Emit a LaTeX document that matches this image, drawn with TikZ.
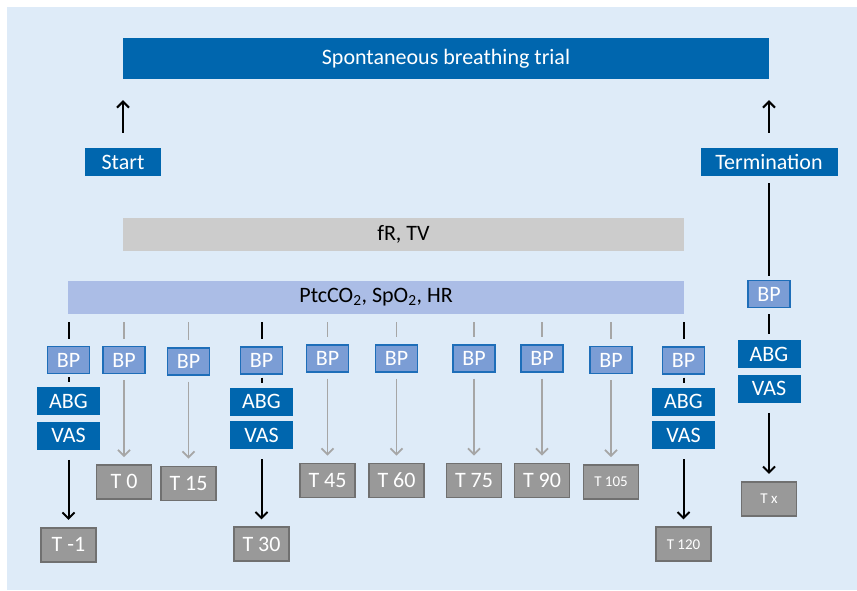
\documentclass[tikz,border=0pt]{standalone}
\usepackage{fontspec}
\setmainfont{Carlito}
\usetikzlibrary{arrows.meta}
\usetikzlibrary{positioning}
\definecolor{sbtblue}{RGB}{0,102,174}
\definecolor{bgblue}{RGB}{222,235,248}
\definecolor{bpblue}{RGB}{123,157,213}
\definecolor{bpline}{RGB}{30,110,185}
\definecolor{barblue}{RGB}{171,189,230}
\definecolor{bargray}{RGB}{204,204,204}
\definecolor{tgray}{RGB}{153,153,153}
\definecolor{tline}{RGB}{112,112,112}
\definecolor{linegray}{RGB}{166,166,166}
\tikzset{
  >={Straight Barb[length=6pt,width=12pt]},
  box/.style = {rectangle, inner sep=0pt, text=white},
  bar/.style = {box, fill=sbtblue, minimum height=41pt},
  tag/.style = {box, fill=sbtblue, minimum height=28pt},
  measure/.style = {box, fill=sbtblue, minimum width=63pt, minimum height=28pt},
  bp/.style = {box, fill=bpblue, draw=bpline, line width=1.2pt,
    minimum width=42pt, minimum height=27pt},
  timept/.style = {box, fill=tgray, draw=tline, line width=1.6pt,
    minimum width=55pt, minimum height=34pt},
  smalltext/.style = {font=\fontsize{15}{17}\selectfont},
  band/.style = {rectangle, inner sep=0pt, text=black, minimum height=33pt},
  blk/.style = {line width=2pt, black},
  gry/.style = {line width=1.8pt, linegray},
  intick/.style = {shorten <=8pt, shorten >=7pt},
  shorttick/.style = {shorten <=3pt, shorten >=5pt},
  toT/.style = {->, shorten <=6pt, shorten >=7pt},
  vasT/.style = {->, shorten <=10pt, shorten >=7pt},
}

\begin{document}
\begin{tikzpicture}[x=1pt, y=-1pt, font=\fontsize{22}{25}\selectfont]
    \useasboundingbox (0,0) rectangle (857,590);
    \fill[bgblue] (7,7) rectangle (857,590);

    % bars
    \node [bar, minimum width=646pt] (sbt) at (446,58.5) {Spontaneous breathing trial};
    \node [tag, minimum width=76pt] (start) at (123,162) {Start};
    \node [tag, minimum width=137pt] (term) at (769,162) {Termination};
    \node [band, fill=bargray, minimum width=561pt] (frtv) at (403.5,234.5) {fR, TV};
    \node [band, fill=barblue, minimum width=616pt] (ptc) at (376,297.5)
      {PtcCO\textsubscript{2}, SpO\textsubscript{2}, HR};

    % blood pressure
    \node [bp] (bp1) at (68.5,360) {BP};
    \node [bp] (bp2) at (124,360) {BP};
    \node [bp] (bp3) at (188.5,361.5) {BP};
    \node [bp] (bp4) at (261.5,360.5) {BP};
    \node [bp] (bp5) at (327.5,358.5) {BP};
    \node [bp] (bp6) at (396.5,358.5) {BP};
    \node [bp] (bp7) at (474,358.5) {BP};
    \node [bp] (bp8) at (542,358.5) {BP};
    \node [bp] (bp9) at (611,360) {BP};
    \node [bp] (bp10) at (683.5,360.5) {BP};
    \node [bp] (bpr) at (769,294) {BP};

    % blood gas and pain score
    \node [measure, below=13pt of bp1] (abg1) {ABG};
    \node [measure, below=6pt of abg1] (vas1) {VAS};
    \node [measure, below=13pt of bp4] (abg4) {ABG};
    \node [measure, below=5pt of abg4] (vas4) {VAS};
    \node [measure, below=13pt of bp10] (abg10) {ABG};
    \node [measure, below=5pt of abg10] (vas10) {VAS};
    \node [measure, below=32pt of bpr] (abgr) {ABG};
    \node [measure, below=6pt of abgr] (vasr) {VAS};

    % time points
    \node [timept, below=77pt of vas1] (tm1) {T -1};
    \node [timept, below=90pt of bp2] (t0) {T 0};
    \node [timept, below=90pt of bp3] (t15) {T 15};
    \node [timept, below=77pt of vas4] (t30) {T 30};
    \node [timept, below=90pt of bp5] (t45) {T 45};
    \node [timept, below=90pt of bp6] (t60) {T 60};
    \node [timept, below=90pt of bp7] (t75) {T 75};
    \node [timept, below=90pt of bp8] (t90) {T 90};
    \node [timept, smalltext, below=90pt of bp9] (t105) {T 105};
    \node [timept, smalltext, below=77pt of vas10] (t120) {T 120};
    \node [timept, smalltext, below=78pt of vasr] (tx) {T x};

    \draw [blk, ->, shorten <=15pt, shorten >=21pt] (start) -- (start |- sbt.south);
    \draw [blk, ->, shorten <=15pt, shorten >=21pt] (term) -- (term |- sbt.south);
    \draw [blk, shorten <=7pt, shorten >=4pt] (term) -- (bpr);

    \draw [blk, intick] (ptc.south -| bp1) -- (bp1);
    \draw [gry, intick] (ptc.south -| bp2) -- (bp2);
    \draw [gry, intick] (ptc.south -| bp3) -- (bp3);
    \draw [blk, intick] (ptc.south -| bp4) -- (bp4);
    \draw [gry, intick] (ptc.south -| bp5) -- (bp5);
    \draw [gry, intick] (ptc.south -| bp6) -- (bp6);
    \draw [gry, intick] (ptc.south -| bp7) -- (bp7);
    \draw [gry, intick] (ptc.south -| bp8) -- (bp8);
    \draw [gry, intick] (ptc.south -| bp9) -- (bp9);
    \draw [blk, intick] (ptc.south -| bp10) -- (bp10);

    \draw [blk, shorttick] (bp1) -- (abg1);
    \draw [blk, shorttick] (bp4) -- (abg4);
    \draw [blk, shorttick] (bp10) -- (abg10);
    \draw [blk, shorten <=6pt, shorten >=6pt] (bpr) -- (abgr);

    \draw [blk, vasT] (vas1) -- (tm1);
    \draw [gry, toT] (bp2) -- (t0);
    \draw [gry, toT] (bp3) -- (t15);
    \draw [blk, vasT] (vas4) -- (t30);
    \draw [gry, toT] (bp5) -- (t45);
    \draw [gry, toT] (bp6) -- (t60);
    \draw [gry, toT] (bp7) -- (t75);
    \draw [gry, toT] (bp8) -- (t90);
    \draw [gry, toT] (bp9) -- (t105);
    \draw [blk, vasT] (vas10) -- (t120);
    \draw [blk, vasT] (vasr) -- (tx);
  \end{tikzpicture}
\end{document}
